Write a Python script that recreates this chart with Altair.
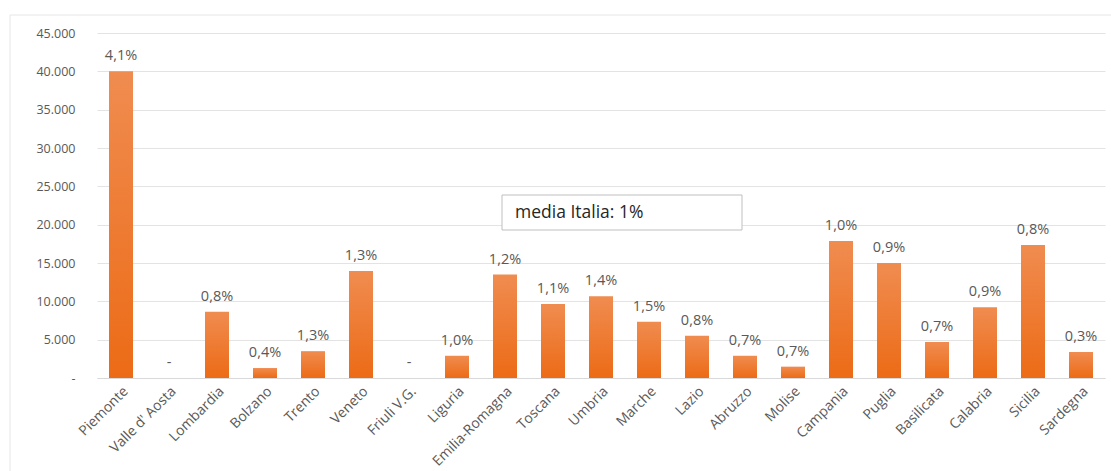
import altair as alt
import pandas as pd

regions = ["Piemonte", "Valle d' Aosta", "Lombardia", "Bolzano", "Trento", "Veneto",
           "Friuli V.G.", "Liguria", "Emilia-Romagna", "Toscana", "Umbria", "Marche",
           "Lazio", "Abruzzo", "Molise", "Campania", "Puglia", "Basilicata", "Calabria",
           "Sicilia", "Sardegna"]
values = [40000, 0, 8650, 1300, 3500, 13950, 0, 2900, 13500, 9650, 10650, 7350,
          5500, 2900, 1480, 17870, 15000, 4700, 9220, 17350, 3390]
labels = ["4,1%", "-", "0,8%", "0,4%", "1,3%", "1,3%", "-", "1,0%", "1,2%", "1,1%",
          "1,4%", "1,5%", "0,8%", "0,7%", "0,7%", "1,0%", "0,9%", "0,7%", "0,9%",
          "0,8%", "0,3%"]
y_ticks = [0, 5000, 10000, 15000, 20000, 25000, 30000, 35000, 40000, 45000]
note = "media Italia: 1%"

df = pd.DataFrame({"regione": regions, "valore": values, "etichetta": labels})

FONT = "Open Sans"
GREY = "#595959"

x = alt.X("regione:N", sort=regions, title=None,
          scale=alt.Scale(paddingInner=0.5, paddingOuter=0.25),
          axis=alt.Axis(labelAngle=-45, labelFont=FONT, labelFontSize=14,
                        labelColor=GREY, ticks=False, domainColor="#D9D9D9",
                        labelPadding=6, labelAlign="right", labelBaseline="top",
                        labelOverlap=False))
y = alt.Y("valore:Q", title=None,
          scale=alt.Scale(domain=[0, 45000], nice=False),
          axis=alt.Axis(values=y_ticks, domain=False, ticks=False,
                        labelFont=FONT, labelFontSize=12.5, labelColor=GREY,
                        labelPadding=22, gridColor="#E3E3E3", labelOverlap=False,
                        tickCount=10,
                        labelExpr="datum.value == 0 ? '-' : replace(format(datum.value, ','), ',', '.')"))

base = alt.Chart(df)

bars = base.mark_bar(
    color=alt.Gradient(gradient="linear", x1=0, y1=0, x2=0, y2=1,
                       stops=[alt.GradientStop(color="#F08C50", offset=0),
                              alt.GradientStop(color="#EC6B16", offset=1)])
).encode(x=x, y=y)

text = base.mark_text(dy=-8, font=FONT, fontSize=14.5, color=GREY, baseline="bottom").encode(
    x=x, y=y, text="etichetta:N")

box = alt.Chart(pd.DataFrame({"t": [note]})).mark_rect(
    fill="white", stroke="#BFBFBF", strokeWidth=1).encode(
    x=alt.value(405), x2=alt.value(645), y=alt.value(162), y2=alt.value(197))

box_text = alt.Chart(pd.DataFrame({"t": [note]})).mark_text(
    font=FONT, fontSize=17.5, color="#262626", align="left", baseline="middle").encode(
    x=alt.value(418), y=alt.value(180), text="t:N")

frame_top = alt.Chart(pd.DataFrame({"t": [0]})).mark_rule(color="#E6E6E6").encode(
    x=alt.value(-87), x2=alt.value(1014), y=alt.value(-18))
frame_left = alt.Chart(pd.DataFrame({"t": [0]})).mark_rule(color="#E6E6E6").encode(
    x=alt.value(-87), y=alt.value(-18), y2=alt.value(438))

chart = alt.layer(frame_top, frame_left, bars, text, box, box_text).properties(
    width=1008, height=345,
    autosize=alt.AutoSizeParams(type="none"),
    padding={"left": 97, "top": 33, "right": 6, "bottom": 93},
    background="white"
).configure_view(stroke=None)

chart.save("out.html", embed_options={"renderer": "svg", "actions": False})
